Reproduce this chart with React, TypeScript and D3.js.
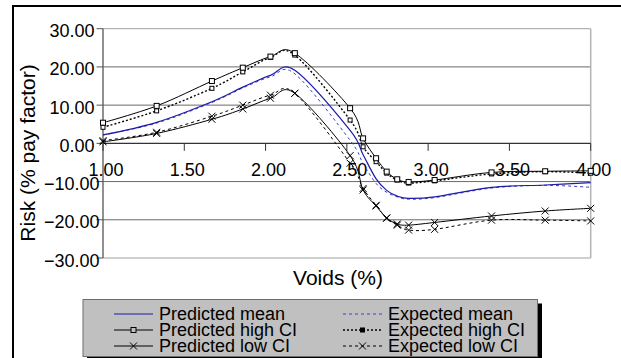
import React from "react";
import * as d3 from "d3";

const X_VALUES = [1.0, 1.33, 1.67, 1.86, 2.03, 2.18, 2.52, 2.6, 2.68, 2.745, 2.81, 2.88, 3.04, 3.39, 3.72, 4.0];
const PRED_MEAN = [2.2, 5.5, 10.9, 14.7, 17.8, 19.1, 3.4, -3.0, -9.3, -12.3, -13.8, -14.4, -14.0, -11.5, -10.9, -10.3];
const PRED_HIGH = [5.4, 9.8, 16.3, 19.8, 22.7, 23.6, 9.2, 1.3, -3.9, -7.4, -9.4, -10.1, -9.6, -7.6, -7.3, -7.2];
const PRED_LOW = [0.4, 2.6, 6.3, 9.0, 11.8, 13.1, -3.2, -12.2, -16.4, -19.5, -21.1, -21.4, -20.7, -19.0, -17.7, -17.0];
const EXP_MEAN = [2.2, 5.3, 10.7, 14.5, 17.4, 18.2, 0.8, -5.3, -10.5, -12.8, -14.0, -14.6, -14.2, -11.7, -11.0, -11.5];
const EXP_HIGH = [4.2, 8.5, 14.4, 18.7, 22.5, 23.1, 6.1, -0.9, -4.8, -7.8, -9.6, -10.4, -9.8, -8.0, -7.4, -7.8];
const EXP_LOW = [0.7, 2.9, 7.1, 10.0, 12.6, 13.1, -5.2, -11.8, -16.2, -19.6, -21.4, -22.7, -22.5, -20.1, -20.1, -20.3];

const Y_TICKS = [30, 20, 10, 0, -10, -20, -30];
const X_TICKS = [1.0, 1.5, 2.0, 2.5, 3.0, 3.5, 4.0];

const X_TITLE = "Voids (%)";
const Y_TITLE = "Risk (% pay factor)";

type Marker = "none" | "square" | "cross";
interface Series {
  name: string;
  values: number[];
  color: string;
  dash: string | null;
  width: number;
  marker: Marker;
  markerSize: number;
}

const SERIES: Series[] = [
  { name: "Expected mean", values: EXP_MEAN, color: "#3a3ad0", dash: "3,3", width: 1, marker: "none", markerSize: 0 },
  { name: "Expected high CI", values: EXP_HIGH, color: "#000000", dash: "2,2", width: 1.4, marker: "square", markerSize: 4 },
  { name: "Expected low CI", values: EXP_LOW, color: "#000000", dash: "3,3", width: 1, marker: "cross", markerSize: 7 },
  { name: "Predicted mean", values: PRED_MEAN, color: "#1c1ca8", dash: null, width: 1.2, marker: "none", markerSize: 0 },
  { name: "Predicted high CI", values: PRED_HIGH, color: "#000000", dash: null, width: 1, marker: "square", markerSize: 5 },
  { name: "Predicted low CI", values: PRED_LOW, color: "#000000", dash: null, width: 1, marker: "cross", markerSize: 7 },
];

const LEGEND_COL1 = ["Predicted mean", "Predicted high CI", "Predicted low CI"];
const LEGEND_COL2 = ["Expected mean", "Expected high CI", "Expected low CI"];

const FONT = "'Liberation Sans', Arial, sans-serif";

function MarkerShape({ kind, x, y, size, fill }: { kind: Marker; x: number; y: number; size: number; fill: string }) {
  if (kind === "square") {
    return <rect x={x - size / 2} y={y - size / 2} width={size} height={size} fill={fill} stroke="#000" strokeWidth={1} />;
  }
  if (kind === "cross") {
    const h = size / 2;
    return (
      <path d={`M${x - h},${y - h}L${x + h},${y + h}M${x - h},${y + h}L${x + h},${y - h}`} stroke="#000" strokeWidth={1} fill="none" />
    );
  }
  return null;
}

export default function App() {
  const W = 621;
  const H = 358;
  const x = d3.scaleLinear().domain([1, 4]).range([103, 590.7]);
  const y = d3.scaleLinear().domain([-30, 30]).range([258, 28.7]);
  const line = d3
    .line<[number, number]>()
    .x((d) => x(d[0]))
    .y((d) => y(d[1]))
    .curve(d3.curveCardinal.tension(0));

  const fmt = d3.format(".2f");
  const label = (v: number) => fmt(v).replace("-", "\u2212");

  const seriesByName = (n: string) => SERIES.find((s) => s.name === n)!;

  const legendRowY = [314, 330, 346];

  const legendItem = (name: string, lx: number, ly: number) => {
    const s = seriesByName(name);
    return (
      <g key={name}>
        <line x1={lx} x2={lx + 39} y1={ly} y2={ly} stroke={s.color} strokeWidth={s.width} strokeDasharray={s.dash ?? undefined} />
        <MarkerShape kind={s.marker} x={lx + 19.5} y={ly} size={s.markerSize} fill={s.name === "Expected high CI" ? "#000" : "#c0c0c0"} />
        <text x={lx + 45} y={ly + 6} fontSize={18} fontFamily={FONT} fill="#000">
          {name}
        </text>
      </g>
    );
  };

  return (
    <svg width={W} height={H} style={{ position: "absolute", left: 0, top: 0, background: "#fff" }}>
      {/* chart area frame */}
      <line x1={13} x2={W} y1={6} y2={6} stroke="#000" strokeWidth={2} />
      <line x1={13} x2={13} y1={5} y2={H} stroke="#000" strokeWidth={2} />

      {/* gridlines */}
      {Y_TICKS.filter((t) => t !== 0).map((t) => (
        <line key={t} x1={x(1)} x2={x(4)} y1={y(t)} y2={y(t)} stroke={t === 30 || t === -30 ? "#a0a0a0" : "#6a6a6a"} strokeWidth={1} />
      ))}
      {/* right plot border */}
      <line x1={x(4)} x2={x(4)} y1={y(30)} y2={y(-30)} stroke="#b4b4b4" strokeWidth={1.5} />

      {/* y axis */}
      <line x1={x(1)} x2={x(1)} y1={y(30)} y2={y(-30)} stroke="#555" strokeWidth={1.3} />
      {Y_TICKS.map((t) => (
        <g key={t}>
          <line x1={x(1) - 6.5} x2={x(1)} y1={y(t)} y2={y(t)} stroke="#555" strokeWidth={1} />
          <text x={t < 0 ? 99.5 : 94.5} y={y(t) + 8.5} textAnchor="end" fontSize={18} fontFamily={FONT} fill="#000">
            {label(t)}
          </text>
        </g>
      ))}

      {/* x axis at 0 */}
      <line x1={x(1)} x2={x(4)} y1={y(0)} y2={y(0)} stroke="#333" strokeWidth={1.2} />
      {X_TICKS.map((t) => (
        <g key={t}>
          <line x1={x(t)} x2={x(t)} y1={y(0)} y2={y(0) + 7.5} stroke="#333" strokeWidth={1} />
          <text x={x(t) + 3} y={175.5} textAnchor="middle" fontSize={18} fontFamily={FONT} fill="#000">
            {fmt(t)}
          </text>
        </g>
      ))}

      {/* series */}
      {SERIES.map((s) => {
        const pts = X_VALUES.map((xv, i) => [xv, s.values[i]] as [number, number]);
        return (
          <g key={s.name}>
            <path d={line(pts) ?? ""} fill="none" stroke={s.color} strokeWidth={s.width} strokeDasharray={s.dash ?? undefined} />
            {s.marker !== "none" &&
              pts.map((p, i) => (
                <MarkerShape key={i} kind={s.marker} x={x(p[0])} y={y(p[1])} size={s.markerSize} fill="#fff" />
              ))}
          </g>
        );
      })}

      {/* axis titles */}
      <text x={338} y={285} textAnchor="middle" fontSize={21} fontFamily={FONT} fill="#000">
        {X_TITLE}
      </text>
      <text transform="translate(34.5,153) rotate(-90)" textAnchor="middle" fontSize={21} fontFamily={FONT} fill="#000">
        {Y_TITLE}
      </text>

      {/* legend */}
      <rect x={87} y={303.5} width={455} height={57} fill="#000" />
      <rect x={83} y={299.5} width={454.5} height={57} fill="#c0c0c0" stroke="#6e6e6e" strokeWidth={1} />
      {LEGEND_COL1.map((n, i) => legendItem(n, 114, legendRowY[i]))}
      {LEGEND_COL2.map((n, i) => legendItem(n, 343, legendRowY[i]))}
    </svg>
  );
}
